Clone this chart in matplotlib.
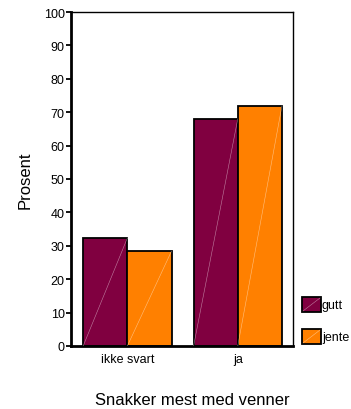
import numpy as np
import matplotlib
matplotlib.use("Agg")
from matplotlib import pyplot as plt
from matplotlib.patches import Rectangle

plt.rcParams['font.family'] = ['Liberation Sans', 'DejaVu Sans']

categories = ['ikke svart', 'ja']
gutt = [32.3, 68.0]
jente = [28.4, 71.9]
series_names = ['gutt', 'jente']
colors = ['#800040', '#FF8000']
yticks = list(range(0, 101, 10))

W, H = 351, 410
fig = plt.figure(figsize=(W / 100, H / 100), dpi=100)
ax = fig.add_axes([71 / W, 1 - 347 / H, 222 / W, 334 / H])

x = np.arange(len(categories))
w = 0.4
for vals, off, col in [(gutt, -w / 2, colors[0]), (jente, w / 2, colors[1])]:
    bars = ax.bar(x + off, vals, w, color=col, edgecolor='black', linewidth=1.3, zorder=2)
    for b in bars:
        x0, x1 = b.get_x(), b.get_x() + b.get_width()
        ax.plot([x0, x1], [0, b.get_height()], color='white', lw=0.4, alpha=0.5, zorder=3)

ax.set_xlim(-0.51, 1.5)
ax.set_ylim(0, 100)
ax.set_xticks(x)
ax.set_xticklabels(categories, fontsize=9)
ax.set_yticks(yticks)
ax.tick_params(axis='y', labelsize=9, length=3.5, width=1.3, pad=1)
ax.tick_params(axis='x', length=0, pad=5)
ax.spines['left'].set_linewidth(2)
ax.spines['bottom'].set_linewidth(2)
ax.spines['top'].set_linewidth(1)
ax.spines['right'].set_linewidth(1)

fig.text(25 / W, 1 - 180 / H, 'Prosent', fontsize=12, rotation=90, ha='center', va='center')
fig.text(192 / W, 1 - 405 / H, 'Snakker mest med venner', fontsize=12, ha='center', va='baseline')

# legend drawn by hand to the right of the axes
for i, (name, col) in enumerate(zip(series_names, colors)):
    y0 = 1 - (313 + i * 32) / H
    fig.patches.append(Rectangle((302 / W, y0), 19 / W, 15 / H, transform=fig.transFigure,
                                 facecolor=col, edgecolor='black', linewidth=1.3))
    fig.lines.append(plt.Line2D([303 / W, 320 / W], [y0 + 1 / H, y0 + 14 / H],
                                transform=fig.transFigure, color='white', lw=0.4, alpha=0.5))
    fig.text(322 / W, y0 + 7 / H, name, fontsize=9, va='center', ha='left')

fig.savefig('out.png', dpi=100)
